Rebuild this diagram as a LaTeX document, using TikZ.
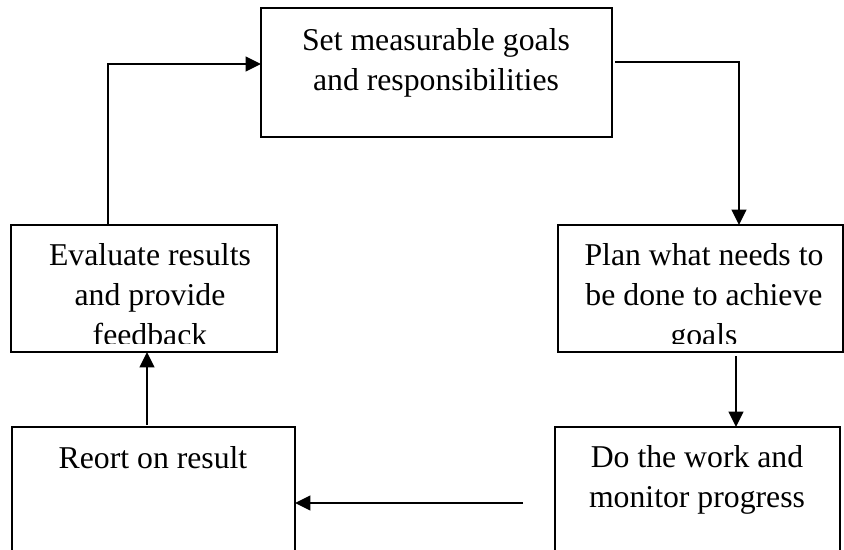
\documentclass[tikz,border=0pt]{standalone}
\usepackage{fontspec}
\setmainfont{Liberation Serif}
\usetikzlibrary{arrows.meta,calc}
\begin{document}
\begin{tikzpicture}[x=0.75pt,y=-0.75pt,
  box/.style={draw, line width=1.5pt, inner sep=0pt, outer sep=0pt, anchor=north west},
  lbl/.style={font=\fontsize{23.8pt}{30pt}\selectfont, anchor=base, inner sep=0pt},
  arr/.style={line width=1.5pt, -{Triangle[length=11.5pt,width=11pt]}}]
\useasboundingbox (0,0) rectangle (844,550);
\clip (0,0) rectangle (844,550);
% boxes
\node[box, minimum width=263.25pt, minimum height=96.75pt] (top) at (261,8) {};
\node[box, minimum width=199.5pt, minimum height=95.25pt] (eval) at (11,225) {};
\node[box, minimum width=213.75pt, minimum height=95.25pt] (plan) at (558,225) {};
\node[box, minimum width=212.25pt, minimum height=129.75pt] (reort) at (12,427) {};
\node[box, minimum width=213.75pt, minimum height=129.75pt] (do) at (555,427) {};
% texts
\node[lbl] (t1) at (436,50) {Set measurable goals};
\node[lbl] (t2) at (436,90) {and responsibilities};
\begin{scope}
\clip (eval.north west) rectangle ($(eval.south east)+(0,-9)$);
\node[lbl] (e1) at (150,265) {Evaluate results};
\node[lbl] (e2) at (150,305) {and provide};
\node[lbl] (e3) at (150,345) {feedback};
\end{scope}
\begin{scope}
\clip (plan.north west) rectangle ($(plan.south east)+(0,-9)$);
\node[lbl] (p1) at (704,265) {Plan what needs to};
\node[lbl] (p2) at (704,305) {be done to achieve};
\node[lbl] (p3) at (704,345) {goals};
\end{scope}
\node[lbl] (r1) at (153,468) {Reort on result};
\node[lbl] (d1) at (697,467) {Do the work and};
\node[lbl] (d2) at (697,507) {monitor progress};
% connectors
\draw[arr] ($(eval.north west)+(97,0)$) |- ($(top.north west)+(0,56)$);
\draw[arr] ($(top.north east)+(3,54)$) -| ($(plan.north west)+(181,0)$);
\draw[arr] ($(plan.south west)+(178,4)$) -- ($(do.north west)+(181,0)$);
\draw[arr] ($(do.north west)+(-32,76)$) -- ($(reort.north east)+(0,76)$);
\draw[arr] ($(reort.north west)+(135,-2)$) -- ($(eval.south west)+(136,0)$);
\end{tikzpicture}
\end{document}
